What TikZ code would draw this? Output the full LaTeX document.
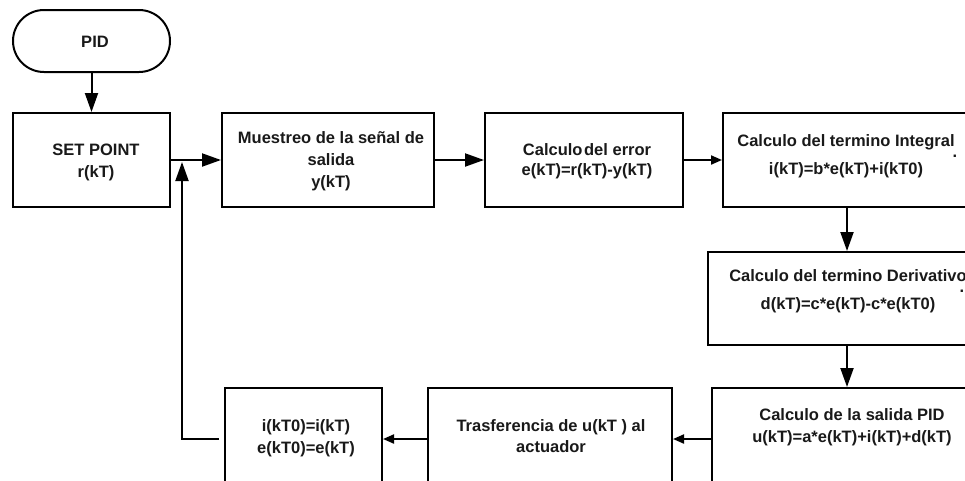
\documentclass[tikz,border=0pt]{standalone}
\usepackage{fontspec}
\setmainfont{Liberation Sans}
\usetikzlibrary{arrows.meta,shapes.misc}
\newcommand\fzs[1]{\bfseries\fontsize{16.5}{#1}\selectfont}
\begin{document}
\begin{tikzpicture}[x=1pt,y=-1pt,
  box/.style={draw=black,line width=2pt,rectangle,inner sep=0pt},
  term/.style={draw=black,line width=2pt,rounded rectangle,inner sep=0pt,minimum width=157pt,minimum height=62pt},
  txt/.style={align=center,inner sep=0pt,anchor=base,text=black!90},
  big/.style={draw=black,line width=2pt,-{Triangle[length=19pt,width=13pt]}},
  small/.style={draw=black,line width=2pt,-{Triangle[length=11pt,width=9pt]}},
  font=\fzs{20}]
\useasboundingbox (0,0) rectangle (965,480);
\fill[white] (0,0) rectangle (965,480);
\clip (0,0) rectangle (965,480);
% boxes
\node[term] (pid) at (91.5,41) {};
\node[box,minimum width=157pt,minimum height=94pt] (sp) at (91.5,160) {};
\node[box,minimum width=212pt,minimum height=94pt] (mu) at (328,160) {};
\node[box,minimum width=198pt,minimum height=94pt] (er) at (584,160) {};
\node[box,minimum width=248pt,minimum height=94pt] (in) at (847,160) {};
\node[box,minimum width=278pt,minimum height=93pt] (de) at (847,298.5) {};
\node[box,minimum width=270pt,minimum height=102pt] (sa) at (847,439) {};
\node[box,minimum width=244pt,minimum height=102pt] (tr) at (550,439) {};
\node[box,minimum width=157pt,minimum height=102pt] (la) at (303.5,439) {};
% texts (base = baseline of last line)
\node[txt] (tpid) at (95,47) {PID};
\node[txt,font=\fzs{22}] (tsp) at (96,177) {SET POINT\\r(kT)};
\node[txt,font=\fzs{22}] (tmu) at (331,187) {Muestreo de la señal de\\salida\\y(kT)};
\node[txt,font=\fzs{20}] (ter) at (587,175) {Calculo\hspace{0.1em}del error\\e(kT)=r(kT)-y(kT)};
\node[txt,font=\fzs{28}] (tin) at (846,174) {Calculo del termino Integral\\i(kT)=b*e(kT)+i(kT0)};
\node[txt,font=\fzs{28}] (tde) at (848,309) {Calculo del termino Derivativo\\d(kT)=c*e(kT)-c*e(kT0)};
\node[txt,font=\fzs{22}] (tsa) at (852,442) {Calculo de la salida PID\\u(kT)=a*e(kT)+i(kT)+d(kT)};
\node[txt,font=\fzs{21}] (ttr) at (551,452) {Trasferencia de u(kT ) al\\actuador};
\node[txt,font=\fzs{22}] (tla) at (306,453) {i(kT0)=i(kT)\\e(kT0)=e(kT)};
\node[txt,font=\fzs{12}] (dot1) at (955,157) {.};
\node[txt,font=\fzs{12}] (dot2) at (962,292) {.};
% connectors
\coordinate (fb) at (182,162);
\draw[big] (pid) -- (sp);
\draw[big] (sp) -- (mu);
\draw[big] (mu) -- (er);
\draw[small] (er) -- (in);
\draw[big] (in) -- (de);
\draw[big] (de) -- (sa);
\draw[small] (sa) -- (tr);
\draw[small] (tr) -- (la);
\draw[big,shorten <=5pt] (la.west) -| (fb);
\end{tikzpicture}
\end{document}
